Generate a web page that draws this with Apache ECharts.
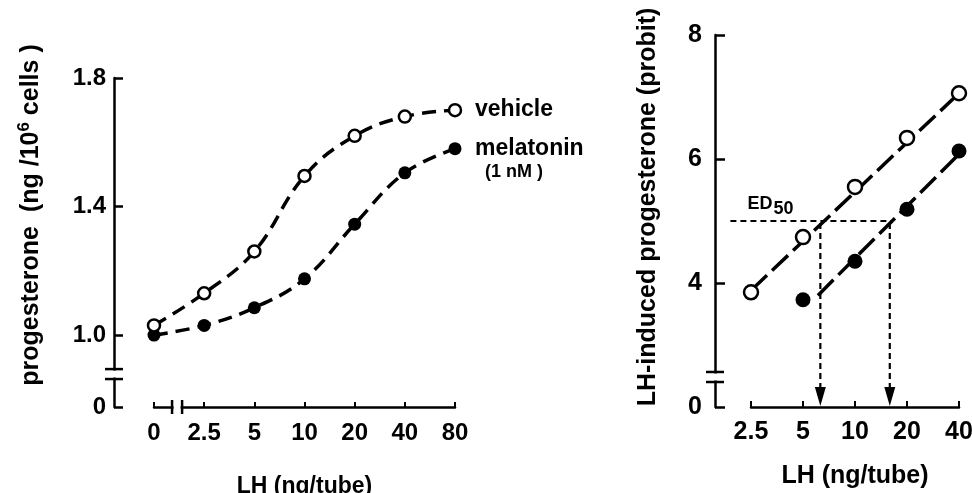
<!DOCTYPE html>
<html><head><meta charset="utf-8">
<script src="https://cdn.jsdelivr.net/npm/echarts@6/dist/echarts.min.js"></script>
<style>html,body{margin:0;padding:0;background:#fff}#c{width:972px;height:493px}</style>
</head><body><div id="c"></div>
<script>
// ---------- data ----------
const leftCategories = ['0', '2.5', '5', '10', '20', '40', '80'];
const vehicleLeft = [1.03, 1.13, 1.26, 1.495, 1.62, 1.68, 1.70];
const melatoninLeft = [1.00, 1.03, 1.085, 1.175, 1.345, 1.505, 1.58];
const leftYTicks = [1.0, 1.4, 1.8];
const leftYMin = 0.776;     // shown as "0" below the axis break
const leftYMax = 1.8;

const rightXTicks = [2.5, 5, 10, 20, 40];
const rightYTicks = [4, 6, 8];
const rightYMin = 2;        // shown as "0" below the axis break
const rightYMax = 8;
const vehicleRight = [[2.5, 3.85], [5, 4.74], [10, 5.55], [20, 6.34], [40, 7.06]];
const melatoninRight = [[5, 3.73], [10, 4.35], [20, 5.19], [40, 6.13]];
const vehicleFit = [[2.5, 3.88], [40, 7.06]];
const melatoninFit = [[6.1, 3.8], [40, 6.08]];
const ed50Probit = 5;
const ed50Vehicle = 6.3;
const ed50Melatonin = 15.9;
const ed50LineStart = 1.9;

// ---------- layout / style ----------
const FONT = '"Liberation Sans", Arial, Helvetica, sans-serif';
const BLACK = '#000';
const LG = {left: 154, right: 517, top: 78, bottom: 86, yOffset: 40};
const RG = {left: 751, right: 13, top: 35, bottom: 86, yOffset: 36};

const chart = echarts.init(document.getElementById('c'), null, {renderer: 'canvas'});

const labelStyle = (size, margin) => ({color: BLACK, fontSize: size, fontWeight: 'bold', fontFamily: FONT, margin});

const option = {
  animation: false,
  backgroundColor: '#fff',
  grid: [
    {left: LG.left, right: LG.right, top: LG.top, bottom: LG.bottom, containLabel: false, outerBoundsMode: 'none'},
    {left: RG.left, right: RG.right, top: RG.top, bottom: RG.bottom, containLabel: false, outerBoundsMode: 'none'}
  ],
  xAxis: [
    {
      type: 'category', gridIndex: 0, data: leftCategories, boundaryGap: false,
      axisLine: {lineStyle: {color: BLACK, width: 2.5}},
      axisTick: {inside: true, length: 5, lineStyle: {color: BLACK, width: 2}},
      axisLabel: labelStyle(24, 14),
      splitLine: {show: false},
      name: 'LH (ng/tube)', nameLocation: 'middle', nameGap: 68,
      nameTextStyle: {color: BLACK, fontSize: 23, fontWeight: 'bold', fontFamily: FONT}
    },
    {
      type: 'log', logBase: 2, gridIndex: 1, min: rightXTicks[0], max: rightXTicks[rightXTicks.length - 1],
      axisLine: {lineStyle: {color: BLACK, width: 2.5}},
      axisTick: {inside: true, length: 6, customValues: rightXTicks, lineStyle: {color: BLACK, width: 2}},
      axisLabel: Object.assign(labelStyle(25, 13), {customValues: rightXTicks, formatter: v => String(v)}),
      splitLine: {show: false}, minorTick: {show: false},
      name: 'LH (ng/tube)', nameLocation: 'middle', nameGap: 57,
      nameTextStyle: {color: BLACK, fontSize: 25, fontWeight: 'bold', fontFamily: FONT}
    }
  ],
  yAxis: [
    {
      type: 'value', gridIndex: 0, min: leftYMin, max: leftYMax, offset: LG.yOffset,
      axisLine: {show: true, lineStyle: {color: BLACK, width: 2.5}},
      axisTick: {show: true, inside: true, length: 9, customValues: [leftYMin].concat(leftYTicks), lineStyle: {color: BLACK, width: 2.5}},
      axisLabel: Object.assign(labelStyle(24, 8), {
        customValues: [leftYMin].concat(leftYTicks),
        formatter: v => (Math.abs(v - leftYMin) < 1e-6 ? '0' : v.toFixed(1))
      }),
      splitLine: {show: false}
    },
    {
      type: 'value', gridIndex: 1, min: rightYMin, max: rightYMax, offset: RG.yOffset,
      axisLine: {show: true, lineStyle: {color: BLACK, width: 2.5}},
      axisTick: {show: true, inside: true, length: 10, customValues: [rightYMin].concat(rightYTicks), lineStyle: {color: BLACK, width: 2.5}},
      axisLabel: Object.assign(labelStyle(25, 13), {
        customValues: [rightYMin].concat(rightYTicks),
        formatter: v => (Math.abs(v - rightYMin) < 1e-6 ? '0' : String(v))
      }),
      splitLine: {show: false}
    }
  ],
  series: [
    {
      name: 'vehicle', type: 'line', xAxisIndex: 0, yAxisIndex: 0, data: vehicleLeft,
      smooth: 0.4, symbol: 'circle', symbolSize: 12, z: 4,
      itemStyle: {color: '#fff', borderColor: BLACK, borderWidth: 2.5},
      lineStyle: {color: BLACK, width: 3.5, type: [14, 8]},
      endLabel: {show: true, formatter: 'vehicle', distance: 20, color: BLACK, fontSize: 23, fontWeight: 'bold', fontFamily: FONT}
    },
    {
      name: 'melatonin', type: 'line', xAxisIndex: 0, yAxisIndex: 0, data: melatoninLeft,
      smooth: 0.4, symbol: 'circle', symbolSize: 13, z: 3,
      itemStyle: {color: BLACK, borderColor: BLACK, borderWidth: 0},
      lineStyle: {color: BLACK, width: 3.5, type: [14, 8]},
      endLabel: {
        show: true, distance: 20, offset: [0, 10],
        formatter: '{m|melatonin}\n{n|(1 nM )}',
        rich: {
          m: {color: BLACK, fontSize: 23, fontWeight: 'bold', fontFamily: FONT, lineHeight: 26},
          n: {color: BLACK, fontSize: 18, fontWeight: 'bold', fontFamily: FONT, lineHeight: 20, padding: [0, 0, 0, 10]}
        }
      }
    },
    {
      name: 'vehicleFit', type: 'line', xAxisIndex: 1, yAxisIndex: 1, data: vehicleFit,
      symbol: 'none', z: 2, lineStyle: {color: BLACK, width: 3.5, type: [22, 7]}
    },
    {
      name: 'melatoninFit', type: 'line', xAxisIndex: 1, yAxisIndex: 1, data: melatoninFit,
      symbol: 'none', z: 2, lineStyle: {color: BLACK, width: 3.5, type: [22, 7]}
    },
    {
      name: 'vehiclePts', type: 'scatter', xAxisIndex: 1, yAxisIndex: 1, data: vehicleRight,
      symbol: 'circle', symbolSize: 14, z: 4,
      itemStyle: {color: '#fff', borderColor: BLACK, borderWidth: 2.5, opacity: 1}
    },
    {
      name: 'melatoninPts', type: 'scatter', xAxisIndex: 1, yAxisIndex: 1, data: melatoninRight,
      symbol: 'circle', symbolSize: 15, z: 4,
      itemStyle: {color: BLACK, opacity: 1}
    }
  ]
};
chart.setOption(option);

// ---------- decorations: axis breaks, ED50 guides, rotated titles ----------
function yBreak(ax, yA, yB) {
  const y1 = Math.min(yA, yB), y2 = Math.max(yA, yB);
  return [
    {type: 'rect', shape: {x: ax - 3, y: y1 + 1.5, width: 6, height: y2 - y1 - 3}, style: {fill: '#fff'}, z: 100},
    {type: 'line', shape: {x1: ax - 9, y1: y1, x2: ax + 9, y2: y1}, style: {stroke: BLACK, lineWidth: 2.5}, z: 101},
    {type: 'line', shape: {x1: ax - 9, y1: y2, x2: ax + 9, y2: y2}, style: {stroke: BLACK, lineWidth: 2.5}, z: 101}
  ];
}
function xBreak(ay, xA, xB) {
  return [
    {type: 'rect', shape: {x: xA + 1.5, y: ay - 3, width: xB - xA - 3, height: 6}, style: {fill: '#fff'}, z: 100},
    {type: 'line', shape: {x1: xA, y1: ay - 7, x2: xA, y2: ay + 7}, style: {stroke: BLACK, lineWidth: 2.5}, z: 101},
    {type: 'line', shape: {x1: xB, y1: ay - 7, x2: xB, y2: ay + 7}, style: {stroke: BLACK, lineWidth: 2.5}, z: 101}
  ];
}
function downArrow(xVal) {
  const top = chart.convertToPixel({xAxisIndex: 1, yAxisIndex: 1}, [xVal, ed50Probit]);
  const tip = chart.convertToPixel({xAxisIndex: 1, yAxisIndex: 1}, [xVal, rightYMin]);
  const headH = 20, headW = 11;
  return [
    {type: 'line', z: 5, silent: true,
      shape: {x1: top[0], y1: top[1] + 2, x2: tip[0], y2: tip[1] - headH + 2},
      style: {stroke: BLACK, lineWidth: 2.2, lineDash: [6, 4]}},
    {type: 'polygon', z: 6, silent: true,
      shape: {points: [[tip[0] - headW / 2, tip[1] - headH], [tip[0] + headW / 2, tip[1] - headH], [tip[0], tip[1] - 1]]},
      style: {fill: BLACK}}
  ];
}
const leftAxisX = LG.left - LG.yOffset;
const rightAxisX = RG.left - RG.yOffset;
const ly1 = chart.convertToPixel({yAxisIndex: 0}, 0.894);
const ly2 = chart.convertToPixel({yAxisIndex: 0}, 0.863);
const ry1 = chart.convertToPixel({yAxisIndex: 1}, 2.565);
const ry2 = chart.convertToPixel({yAxisIndex: 1}, 2.403);
const x0 = chart.convertToPixel({xAxisIndex: 0}, '0');
const x25 = chart.convertToPixel({xAxisIndex: 0}, '2.5');
const leftAxisY = chart.convertToPixel({yAxisIndex: 0}, leftYMin);
const edStart = chart.convertToPixel({xAxisIndex: 1, yAxisIndex: 1}, [ed50LineStart, ed50Probit]);
const edEnd = chart.convertToPixel({xAxisIndex: 1, yAxisIndex: 1}, [ed50Melatonin, ed50Probit]);

const graphics = []
  .concat(yBreak(leftAxisX, ly1, ly2))
  .concat(yBreak(rightAxisX, ry1, ry2))
  .concat(xBreak(leftAxisY, x0 + (x25 - x0) * 0.36, x0 + (x25 - x0) * 0.56))
  .concat(downArrow(ed50Vehicle))
  .concat(downArrow(ed50Melatonin))
  .concat([
    {
      type: 'line', z: 1, silent: true,
      shape: {x1: edStart[0], y1: edStart[1], x2: edEnd[0] + 2, y2: edEnd[1]},
      style: {stroke: BLACK, lineWidth: 2, lineDash: [6, 4]}
    },
    {
      type: 'text', x: 31, y: 215, rotation: Math.PI / 2, z: 100,
      style: {
        text: 'progesterone  (ng /10{s|6} cells )',
        fill: BLACK, fontSize: 25, fontWeight: 'bold', fontFamily: FONT,
        align: 'center', verticalAlign: 'middle',
        rich: {s: {fontSize: 17, fontWeight: 'bold', fontFamily: FONT, fill: BLACK, verticalAlign: 'top', lineHeight: 30}}
      }
    },
    {
      type: 'text', x: 648, y: 207, rotation: Math.PI / 2, z: 100,
      style: {
        text: 'LH-induced progesterone (probit)',
        fill: BLACK, fontSize: 25, fontWeight: 'bold', fontFamily: FONT,
        align: 'center', verticalAlign: 'middle'
      }
    },
    {
      type: 'text', x: edStart[0] + 17, y: edStart[1] - 26, z: 100,
      style: {text: 'ED', fill: BLACK, fontSize: 18, fontWeight: 'bold', fontFamily: FONT, align: 'left', verticalAlign: 'top'}
    },
    {
      type: 'text', x: edStart[0] + 17 + 26, y: edStart[1] - 21, z: 100,
      style: {text: '50', fill: BLACK, fontSize: 18, fontWeight: 'bold', fontFamily: FONT, align: 'left', verticalAlign: 'top'}
    }
  ]);
chart.setOption({graphic: {elements: graphics}});
</script>
</body></html>
